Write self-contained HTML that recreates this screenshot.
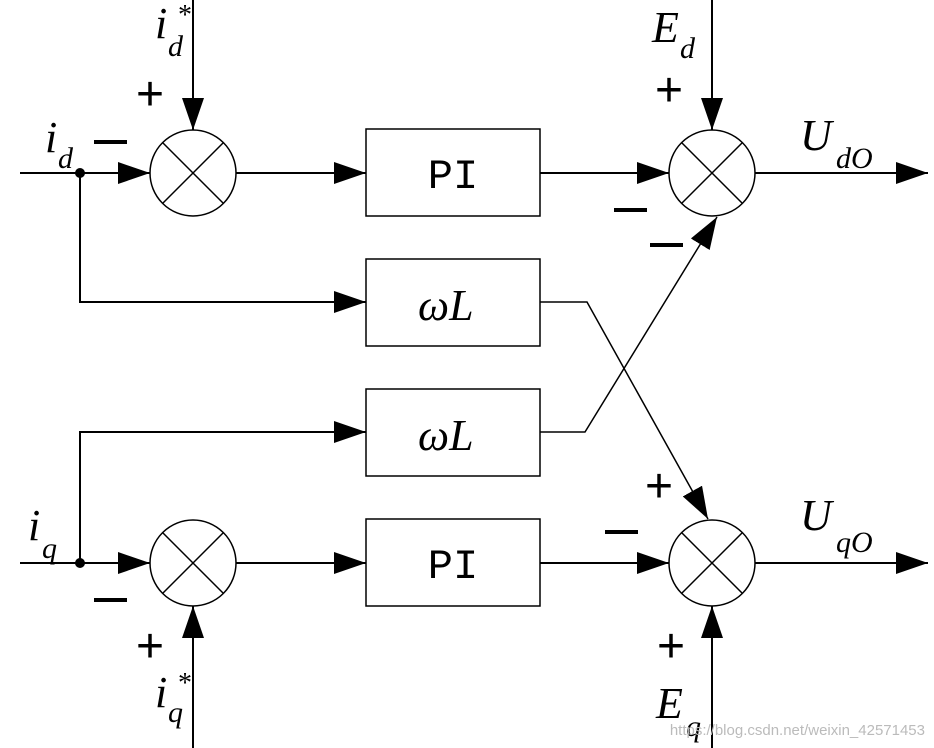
<!DOCTYPE html>
<html><head><meta charset="utf-8"><style>body{margin:0;background:#fff}svg{display:block}</style></head><body>
<svg width="934" height="748" viewBox="0 0 934 748" xmlns="http://www.w3.org/2000/svg">
<defs>
<marker id="b" viewBox="0 0 10 10" refX="10" refY="5" markerWidth="32" markerHeight="22" orient="auto" markerUnits="userSpaceOnUse" preserveAspectRatio="none"><path d="M0,0L10,5L0,10z" fill="#000"/></marker></defs>
<g stroke="#000" stroke-width="2" fill="none">
<circle cx="193" cy="173" r="43" stroke-width="1.5"/>
<circle cx="712" cy="173" r="43" stroke-width="1.5"/>
<circle cx="193" cy="563" r="43" stroke-width="1.5"/>
<circle cx="712" cy="563" r="43" stroke-width="1.5"/>
<g stroke-width="1.5">
<path d="M163,143L223,203M223,143L163,203"/>
<path d="M682,143L742,203M742,143L682,203"/>
<path d="M163,533L223,593M223,533L163,593"/>
<path d="M682,533L742,593M742,533L682,593"/>
</g>
<rect x="366" y="129" width="174" height="87" stroke-width="1.5"/>
<rect x="366" y="259" width="174" height="87" stroke-width="1.5"/>
<rect x="366" y="389" width="174" height="87" stroke-width="1.5"/>
<rect x="366" y="519" width="174" height="87" stroke-width="1.5"/>
<path d="M20,173H150" marker-end="url(#b)"/>
<path d="M80,173V302H366" marker-end="url(#b)"/>
<path d="M193,0V130" marker-end="url(#b)"/>
<path d="M236,173H366" marker-end="url(#b)"/>
<path d="M540,173H669" marker-end="url(#b)"/>
<path d="M712,0V130" marker-end="url(#b)"/>
<path d="M755,173H928" marker-end="url(#b)"/>
<path d="M20,563H150" marker-end="url(#b)"/>
<path d="M80,563V432H366" marker-end="url(#b)"/>
<path d="M193,748V606" marker-end="url(#b)"/>
<path d="M236,563H366" marker-end="url(#b)"/>
<path d="M540,563H669" marker-end="url(#b)"/>
<path d="M712,748V606" marker-end="url(#b)"/>
<path d="M755,563H928" marker-end="url(#b)"/>
<path d="M540,302H587L708,519" stroke-width="1.5" marker-end="url(#b)"/>
<path d="M540,432H585L717,217" stroke-width="1.5" marker-end="url(#b)"/>
</g>
<circle cx="80" cy="173" r="5"/><circle cx="80" cy="563" r="5"/>
<g font-family="'Liberation Serif',serif" font-style="italic" font-size="44">
<text x="155" y="38">i</text><text x="168" y="56" font-size="30">d</text><text x="178" y="24" font-size="28" font-style="normal">*</text>
<text x="45" y="152">i</text><text x="58" y="168" font-size="30">d</text>
<text x="28" y="540">i</text><text x="42" y="558" font-size="30">q</text>
<text x="155" y="707">i</text><text x="168" y="722" font-size="30">q</text><text x="178" y="692" font-size="28" font-style="normal">*</text>
<text x="652" y="42">E</text><text x="680" y="58" font-size="30">d</text>
<text x="656" y="718">E</text><text x="686" y="736" font-size="30">q</text>
<text x="800" y="150">U</text><text x="836" y="168" font-size="30">dO</text>
<text x="800" y="530">U</text><text x="836" y="552" font-size="30">qO</text>
<text x="418" y="320">ωL</text>
<text x="418" y="450">ωL</text>
</g>
<g font-family="'Liberation Mono',monospace" font-size="42" text-anchor="middle">
<text x="453" y="188">PI</text><text x="453" y="578">PI</text>
</g>
<g font-family="'Liberation Sans',sans-serif" font-size="48">
<text x="136" y="110">+</text><text x="655" y="106">+</text>
<text x="645" y="502">+</text><text x="657" y="662">+</text><text x="136" y="662">+</text>
</g>
<g fill="#000">
<rect x="94" y="140" width="33" height="4"/>
<rect x="614" y="208" width="33" height="4"/>
<rect x="650" y="243" width="33" height="4"/>
<rect x="605" y="530" width="33" height="4"/>
<rect x="94" y="598" width="33" height="4"/>
</g>
<text x="925" y="735" text-anchor="end" font-family="'Liberation Sans',sans-serif" font-size="15" fill="#bbb">https://blog.csdn.net/weixin_42571453</text>
</svg>
</body></html>
